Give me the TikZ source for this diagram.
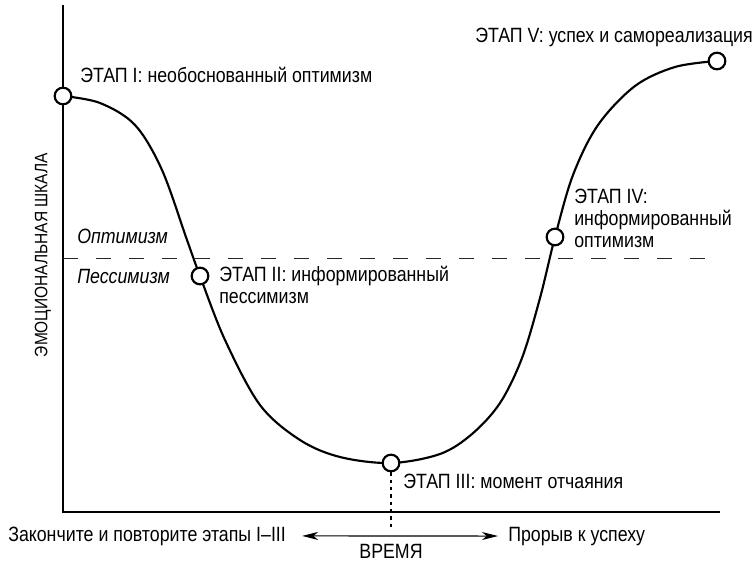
\documentclass[tikz,border=0pt]{standalone}
\usepackage{fontspec}
\setmainfont[FakeStretch=0.86]{Liberation Sans}
\usetikzlibrary{positioning,calc,arrows.meta}
\tikzset{
  figfont/.style={font=\fontsize{15.5}{16.5}\selectfont},
  axisline/.style={line width=1.9pt},
  curveline/.style={line width=1.6pt},
  stagept/.style={circle, draw, line width=1.6pt, fill=white, minimum size=12.5pt, inner sep=0pt},
  stagelbl/.style={align=left, inner sep=0pt, anchor=base west},
  zonelbl/.style={stagelbl, font=\fontsize{15.5}{16.5}\selectfont\itshape},
  zoneline/.style={line width=0.75pt, black!85, dash pattern=on 11.25pt off 13.5pt},
  timearrow/.style={{Stealth[length=12pt, width=6pt, inset=3.5pt]}-{Stealth[length=12pt, width=6pt, inset=3.5pt]}, line width=0.8pt},
}

\begin{document}
\begin{tikzpicture}[figfont, x=0.75pt, y=-0.75pt]
  \useasboundingbox (0,0) rectangle (755,563);

  % Axes
  \coordinate (ytop) at (63,5);
  \coordinate (xend) at (720,512);
  \draw[axisline] (ytop) |- (xend);
  \node[rotate=90, font=\fontsize{13.5}{16}\selectfont] (scalelbl) at (43,255) {ЭМОЦИОНАЛЬНАЯ ШКАЛА};

  % Optimism / pessimism border
  \coordinate (zoneL) at (63,258);
  \coordinate (zoneR) at (713,258);
  \draw[zoneline] (zoneL) -- (zoneR);
  \node[zonelbl] (optlbl) at (77,243) {Оптимизм};
  \node[zonelbl] (pesslbl) at (77,283) {Пессимизм};

  % Curve
  \draw[curveline] plot[smooth, tension=0.55] coordinates {
    (63,96) (100,103) (135,125) (162,170) (187,240) (200,276) (225,340)
    (260,405) (300,440) (340,457) (391,463) (440,454) (472,434) (500,403)
    (522,358) (540,298) (555,237) (573,175) (598,125) (635,86) (675,67) (717,61)};

  % Stages
  \node[stagept] (ptI) at (63,96) {};
  \node[stagept] (ptII) at (200,276) {};
  \node[stagept] (ptIII) at (391,463) {};
  \node[stagept] (ptIV) at (555,237) {};
  \node[stagept] (ptV) at (717,61) {};

  \node[stagelbl] (lblI) at (80,83) {ЭТАП I: необоснованный оптимизм};
  \node[stagelbl] (lblII) at (219,303) {ЭТАП II: информированный\\пессимизм};
  \node[stagelbl] (lblIII) at (403,488) {ЭТАП III: момент отчаяния};
  \node[stagelbl] (lblIV) at (574,247) {ЭТАП IV:\\информированный\\оптимизм};
  \node[stagelbl, anchor=base east] (lblV) at (753,43) {ЭТАП V: успех и самореализация};

  % Time axis
  \coordinate (tmid) at (391,530);
  \draw[line width=1.6pt, dash pattern=on 2.5pt off 3pt] (ptIII.south) -- (tmid);
  \node[stagelbl] (repeatlbl) at (8,541) {Закончите и повторите этапы I–III};
  \node[stagelbl] (successlbl) at (508,541) {Прорыв к успеху};
  \node[inner sep=0pt, anchor=base] (timelbl) at (391,558) {ВРЕМЯ};
  \draw[timearrow] ([xshift=12pt]repeatlbl.east) -- ([xshift=-7.5pt]successlbl.west);
\end{tikzpicture}
\end{document}
